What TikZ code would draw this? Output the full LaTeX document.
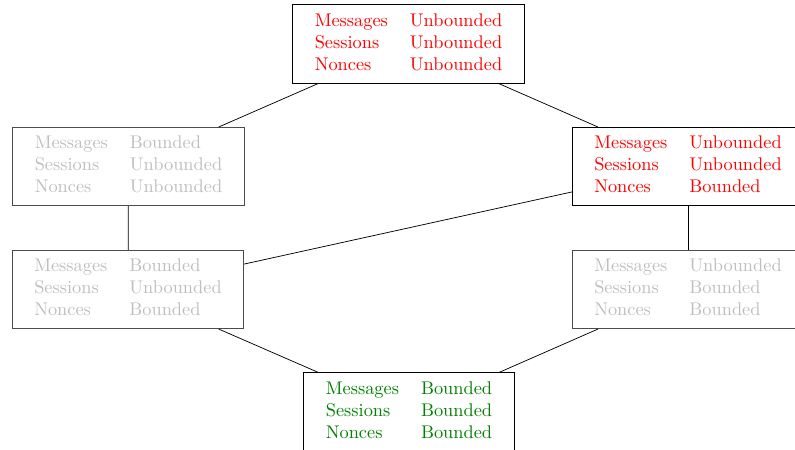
\documentclass[tikz,border=0pt]{standalone}
\usepackage{xcolor}

\definecolor{unsafe}{RGB}{255,0,0}
\definecolor{safe}{RGB}{0,128,0}
\definecolor{other}{RGB}{190,190,190}

\tikzset{
    lattice/.style={draw, inner xsep=6pt, align=left},
    unsafebox/.style={lattice, text=unsafe},
    safebox/.style={lattice, text=safe},
    otherbox/.style={lattice, text=other, draw=black!70}
}

\newcommand{\bounds}[3]{\begin{tabular}{ll}Messages & #1\\ Sessions & #2\\ Nonces & #3\end{tabular}}

\begin{document}
\begin{tikzpicture}[x=0.545pt, y=-0.545pt]
    \useasboundingbox (0,0) rectangle (795,450);

    \node[unsafebox] (uuu) at (408.5,44)  {\bounds{Unbounded}{Unbounded}{Unbounded}};
    \node[otherbox]  (buu) at (128.5,166.5) {\bounds{Bounded}{Unbounded}{Unbounded}};
    \node[unsafebox] (uub) at (688,166.5) {\bounds{Unbounded}{Unbounded}{Bounded}};
    \node[otherbox]  (bub) at (128,289.5) {\bounds{Bounded}{Unbounded}{Bounded}};
    \node[otherbox]  (ubb) at (688,289.5) {\bounds{Unbounded}{Bounded}{Bounded}};
    \node[safebox]   (bbb) at (409,412)   {\bounds{Bounded}{Bounded}{Bounded}};

    \draw (uuu) -- (buu);
    \draw (uuu) -- (uub);
    \draw (buu) -- (bub);
    \draw (uub) -- (bub);
    \draw (uub) -- (ubb);
    \draw (bub) -- (bbb);
    \draw (ubb) -- (bbb);
\end{tikzpicture}
\end{document}
